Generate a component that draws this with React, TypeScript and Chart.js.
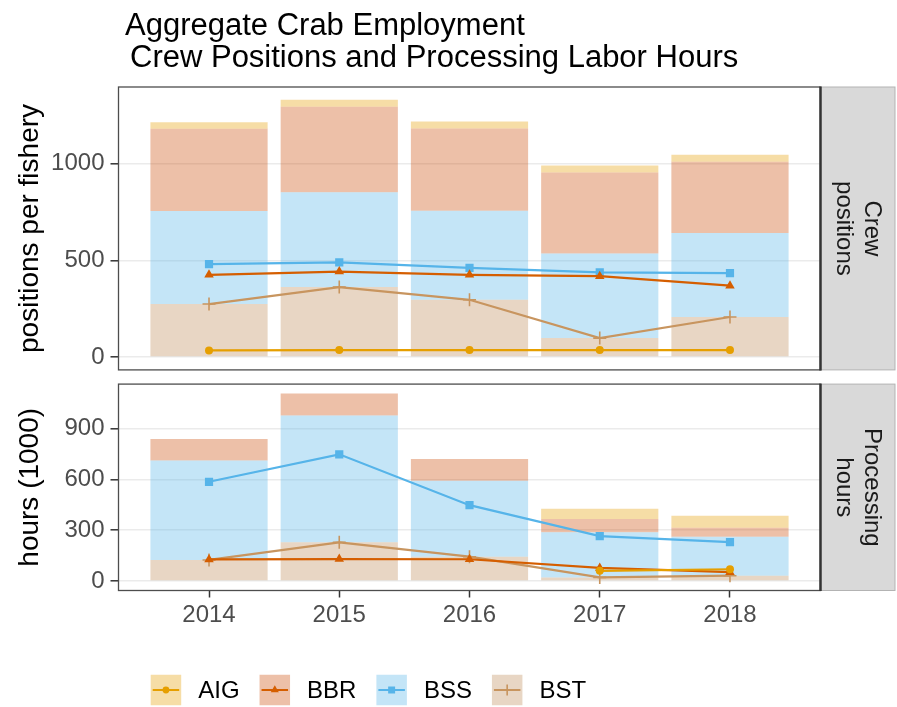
import React, { useEffect, useRef } from "react";
import { Chart, registerables } from "chart.js";
import { drawPoint } from "chart.js/helpers";
Chart.register(...registerables);

const FONT = '"Liberation Sans", Arial, Helvetica, sans-serif';

// ---------------- data ----------------
const years = [2014, 2015, 2016, 2017, 2018];
const fisheries = ["AIG", "BBR", "BSS", "BST"];

const crewAIG = [34, 36, 36, 36, 36];
const crewBBR = [425, 442, 425, 418, 369];
const crewBSS = [481, 490, 461, 438, 434];
const crewBST = [274, 362, 296, 98, 207];

const hoursAIG = [null, null, null, 61, 70];
const hoursBBR = [128, 130, 129, 78, 53];
const hoursBSS = [586, 748, 448, 266, 230];
const hoursBST = [125, 229, 144, 22, 32];

const crewTicks = [0, 500, 1000];
const hoursTicks = [0, 300, 600, 900];

const titleLine1 = "Aggregate Crab Employment";
const titleLine2 = "Crew Positions and Processing Labor Hours";
const crewYTitle = "positions per fishery";
const hoursYTitle = "hours (1000)";
const crewStrip = ["Crew", "positions"];
const hoursStrip = ["Processing", "hours"];

// ---------------- styles ----------------
const lineColors: Record<string, string> = {
  AIG: "#E69F00",
  BBR: "#D55E00",
  BSS: "#56B4E9",
  BST: "#C8955F",
};
const barColors: Record<string, string> = {
  AIG: "rgba(230,159,0,0.35)",
  BBR: "rgba(205,85,20,0.37)",
  BSS: "rgba(86,180,233,0.35)",
  BST: "rgba(189,138,86,0.35)",
};
const pointStyles: Record<string, string> = {
  AIG: "circle",
  BBR: "triangle",
  BSS: "rect",
  BST: "cross",
};
const pointRadii: Record<string, number> = { AIG: 4, BBR: 5.5, BSS: 5.8, BST: 6.5 };

const W = 897;
const H = 707;
const Y_AXIS_W = 118.5;
const PANEL_RIGHT = 820.5;
const STRIP_RIGHT = 895;
const X_AXIS_H = 40;

type PanelOpts = {
  series: Record<string, (number | null)[]>;
  ticks: number[];
  showX: boolean;
  canvasTop: number;
  canvasH: number;
  panelTop: number;
  panelBottom: number;
  yTitle: string;
  strip: string[];
  drawTitle: boolean;
  drawLegend: boolean;
};

function makeChart(canvas: HTMLCanvasElement, o: PanelOpts) {
  const totals = years.map((_, i) =>
    fisheries.reduce((s, f) => s + (o.series[f][i] ?? 0), 0)
  );
  const maxT = Math.max(...totals);
  const toXY = (arr: (number | null)[]) => arr.map((v, i) => ({ x: years[i], y: v }));
  const stackOrder = ["BST", "BSS", "BBR", "AIG"];

  const bars = stackOrder.map((f) => ({
    type: "bar" as const,
    label: f,
    data: toXY(o.series[f]),
    backgroundColor: barColors[f],
    borderWidth: 0,
    stack: "bars",
    order: 2,
    barPercentage: 0.9,
    categoryPercentage: 1,
  }));
  const lines = fisheries.map((f) => ({
    type: "line" as const,
    label: f,
    data: toXY(o.series[f]),
    borderColor: lineColors[f],
    backgroundColor: lineColors[f],
    borderWidth: 2.2,
    pointStyle: pointStyles[f],
    pointRadius: pointRadii[f],
    pointBorderWidth: f === "BST" ? 1.6 : 0,
    pointBorderColor: lineColors[f],
    pointBackgroundColor: lineColors[f],
    stack: "line" + f,
    order: 1,
    tension: 0,
    spanGaps: false,
  }));

  const span = years[years.length - 1] - years[0] + 0.9;
  const xMin = years[0] - 0.45 - 0.05 * span;
  const xMax = years[years.length - 1] + 0.45 + 0.05 * span;

  const padTop = o.panelTop - o.canvasTop;
  const padBottom = o.canvasTop + o.canvasH - o.panelBottom - (o.showX ? X_AXIS_H : 0);

  const decor = {
    id: "decor" + o.yTitle,
    afterDraw(chart: any) {
      const { ctx, chartArea: a } = chart;
      ctx.save();
      // panel border
      ctx.strokeStyle = "#4D4D4D";
      ctx.lineWidth = 1.3;
      ctx.strokeRect(a.left, a.top, a.right - a.left, a.bottom - a.top);
      // strip
      ctx.fillStyle = "#D9D9D9";
      ctx.fillRect(a.right, a.top, STRIP_RIGHT - a.right, a.bottom - a.top);
      ctx.strokeStyle = "#B3B3B3";
      ctx.lineWidth = 1;
      ctx.strokeRect(a.right, a.top, STRIP_RIGHT - a.right, a.bottom - a.top);
      ctx.strokeStyle = "#333333";
      ctx.lineWidth = 2.5;
      ctx.beginPath();
      ctx.moveTo(a.right, a.top - 0.5);
      ctx.lineTo(a.right, a.bottom + 0.5);
      ctx.stroke();
      // strip text
      const cx = (a.right + STRIP_RIGHT) / 2;
      const cy = (a.top + a.bottom) / 2;
      ctx.save();
      ctx.translate(cx, cy);
      ctx.rotate(Math.PI / 2);
      ctx.fillStyle = "#1A1A1A";
      ctx.font = `24px ${FONT}`;
      ctx.textAlign = "center";
      ctx.textBaseline = "middle";
      const n = o.strip.length;
      o.strip.forEach((t, i) => {
        ctx.fillText(t, 0, (i - (n - 1) / 2) * 28);
      });
      ctx.restore();
      // y title
      ctx.save();
      ctx.translate(30, cy);
      ctx.rotate(-Math.PI / 2);
      ctx.fillStyle = "#000000";
      ctx.font = `28px ${FONT}`;
      ctx.textAlign = "center";
      ctx.textBaseline = "middle";
      ctx.fillText(o.yTitle, 0, 0);
      ctx.restore();
      // title
      if (o.drawTitle) {
        ctx.fillStyle = "#000000";
        ctx.font = `31px ${FONT}`;
        ctx.textAlign = "left";
        ctx.textBaseline = "alphabetic";
        ctx.fillText(titleLine1, 125, 35 - o.canvasTop);
        ctx.fillText(titleLine2, 130, 67 - o.canvasTop);
      }
      // legend
      if (o.drawLegend) {
        const ly = 690 - o.canvasTop;
        const key = 30.5;
        let x = 150.7;
        ctx.font = `24px ${FONT}`;
        ctx.textBaseline = "middle";
        ctx.textAlign = "left";
        fisheries.forEach((f) => {
          ctx.fillStyle = barColors[f];
          ctx.fillRect(x, ly - key / 2, key, key);
          ctx.strokeStyle = lineColors[f];
          ctx.lineWidth = 2;
          ctx.beginPath();
          ctx.moveTo(x + 2, ly);
          ctx.lineTo(x + key - 2, ly);
          ctx.stroke();
          ctx.fillStyle = lineColors[f];
          ctx.strokeStyle = lineColors[f];
          ctx.lineWidth = f === "BST" ? 1.6 : 0;
          drawPoint(
            ctx,
            {
              pointStyle: pointStyles[f],
              radius: pointRadii[f] * 0.85,
              borderWidth: f === "BST" ? 1.6 : 0,
              rotation: 0,
            } as any,
            x + key / 2,
            ly
          );
          ctx.fillStyle = "#000000";
          const tx = x + key + 17;
          ctx.fillText(f, tx, ly + 1);
          x = tx + ctx.measureText(f).width + 20;
        });
      }
      ctx.restore();
    },
  };

  return new Chart(canvas, {
    type: "bar",
    data: { datasets: [...lines, ...bars] as any },
    options: {
      animation: false,
      responsive: false,
      devicePixelRatio: 1,
      layout: {
        padding: {
          top: padTop,
          bottom: padBottom,
          left: 0,
          right: W - PANEL_RIGHT,
        },
      },
      plugins: {
        legend: { display: false },
        title: { display: false },
        tooltip: { enabled: false },
      },
      scales: {
        x: {
          type: "linear",
          min: xMin,
          max: xMax,
          display: o.showX,
          offset: false,
          afterBuildTicks: (s: any) => {
            s.ticks = years.map((v) => ({ value: v }));
          },
          afterFit: (s: any) => {
            s.height = o.showX ? X_AXIS_H : 0;
            s.paddingLeft = 0;
            s.paddingRight = 0;
          },
          ticks: {
            callback: (v: any) => String(v),
            color: "#4D4D4D",
            font: { family: FONT, size: 24 },
            padding: 3,
            maxRotation: 0,
            autoSkip: false,
          },
          grid: {
            offset: false,
            drawOnChartArea: false,
            tickLength: 7,
            tickColor: "#333333",
            tickWidth: 1.5,
          },
          border: { display: false },
        },
        y: {
          type: "linear",
          stacked: true,
          min: -0.05 * maxT,
          max: 1.05 * maxT,
          afterBuildTicks: (s: any) => {
            s.ticks = o.ticks.map((v) => ({ value: v }));
          },
          afterFit: (s: any) => {
            s.width = Y_AXIS_W;
            s.paddingTop = 0;
            s.paddingBottom = 0;
          },
          ticks: {
            callback: (v: any) => String(v),
            color: "#4D4D4D",
            font: { family: FONT, size: 24 },
            padding: 6,
          },
          grid: {
            color: "#EBEBEB",
            lineWidth: 1.6,
            tickLength: 8,
            tickColor: "#333333",
            tickWidth: 1.5,
          },
          border: { display: false },
        },
      },
    } as any,
    plugins: [decor],
  });
}

export default function App() {
  const topRef = useRef<HTMLCanvasElement>(null);
  const botRef = useRef<HTMLCanvasElement>(null);

  useEffect(() => {
    const topTop = 0;
    const topH = 378;
    const botTop = 376;
    const botH = H - botTop;
    const c1 = makeChart(topRef.current!, {
      series: { AIG: crewAIG, BBR: crewBBR, BSS: crewBSS, BST: crewBST },
      ticks: crewTicks,
      showX: false,
      canvasTop: topTop,
      canvasH: topH,
      panelTop: 87,
      panelBottom: 371,
      yTitle: crewYTitle,
      strip: crewStrip,
      drawTitle: true,
      drawLegend: false,
    });
    const c2 = makeChart(botRef.current!, {
      series: { AIG: hoursAIG, BBR: hoursBBR, BSS: hoursBSS, BST: hoursBST },
      ticks: hoursTicks,
      showX: true,
      canvasTop: botTop,
      canvasH: botH,
      panelTop: 382.5,
      panelBottom: 590.5,
      yTitle: hoursYTitle,
      strip: hoursStrip,
      drawTitle: false,
      drawLegend: true,
    });
    return () => {
      c1.destroy();
      c2.destroy();
    };
  }, []);

  return (
    <div
      style={{
        position: "fixed",
        left: 0,
        top: 0,
        width: W,
        height: H,
        background: "#FFFFFF",
        overflow: "hidden",
      }}
    >
      <canvas
        ref={topRef}
        width={W}
        height={378}
        style={{ position: "absolute", left: 0, top: 0, width: W, height: 378 }}
      />
      <canvas
        ref={botRef}
        width={W}
        height={H - 376}
        style={{ position: "absolute", left: 0, top: 376, width: W, height: H - 376 }}
      />
    </div>
  );
}
